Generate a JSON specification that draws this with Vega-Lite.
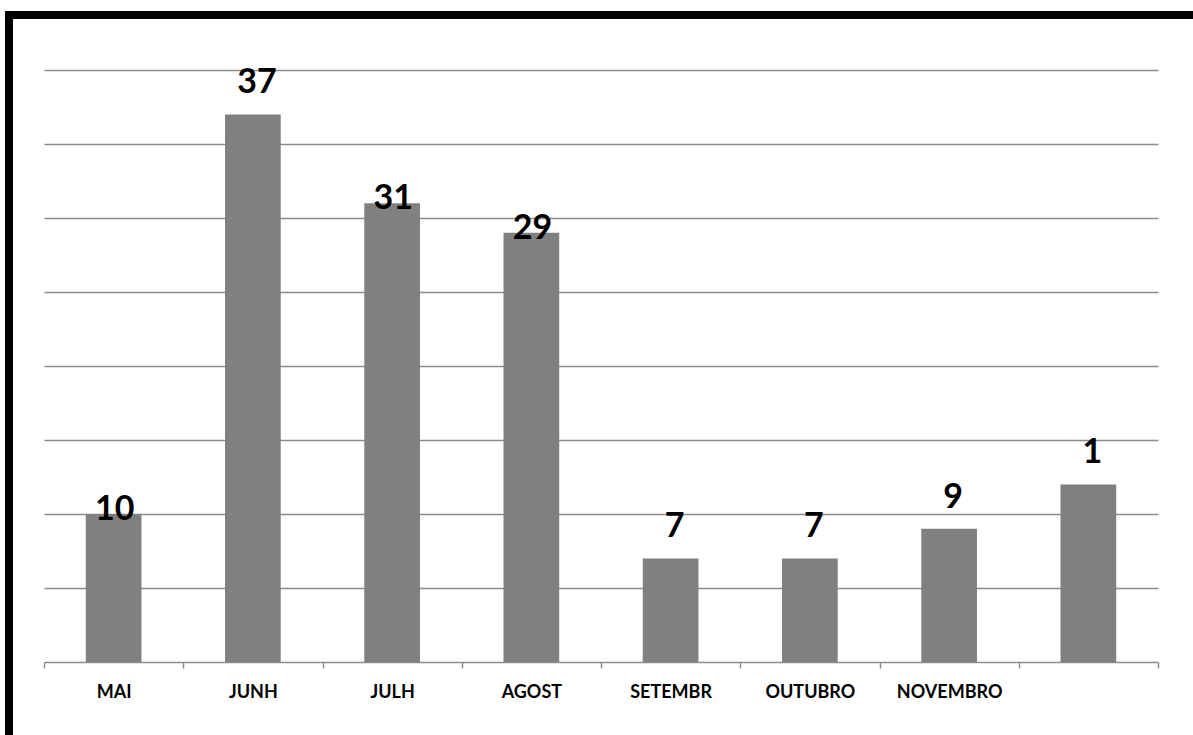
{
  "$schema": "https://vega.github.io/schema/vega-lite/v6.json",
  "width": 1200,
  "height": 730,
  "autosize": {"type": "none"},
  "padding": {"left": 9, "top": 15, "right": 0, "bottom": 0},
  "background": "white",
  "data": {
    "values": [
      {"mes": "MAI", "valor": 10, "rotulo": "10"},
      {"mes": "JUNH", "valor": 37, "rotulo": "37"},
      {"mes": "JULH", "valor": 31, "rotulo": "31"},
      {"mes": "AGOST", "valor": 29, "rotulo": "29"},
      {"mes": "SETEMBR", "valor": 7, "rotulo": "7"},
      {"mes": "OUTUBRO", "valor": 7, "rotulo": "7"},
      {"mes": "NOVEMBRO", "valor": 9, "rotulo": "9"},
      {"mes": " ", "valor": 12, "rotulo": "1"}
    ]
  },
  "encoding": {
    "x": {
      "field": "mes",
      "type": "nominal",
      "sort": null,
      "scale": {"type": "band", "range": [35, 1149], "paddingInner": 0, "paddingOuter": 0},
      "axis": {
        "title": null,
        "orient": "bottom",
        "offset": -83,
        "labelAngle": 0,
        "labelFont": "Lato",
        "labelFontWeight": "bold",
        "labelFontSize": 18,
        "labelColor": "#000000",
        "labelBaseline": "alphabetic",
        "labelPadding": 29,
        "domainColor": "#8c8c8c",
        "domainWidth": 1.5,
        "tickColor": "#8c8c8c",
        "tickWidth": 1.5,
        "tickSize": 6,
        "tickBand": "extent",
        "grid": false
      }
    },
    "y": {
      "field": "valor",
      "type": "quantitative",
      "scale": {"domain": [0, 40], "range": [647, 55], "nice": false},
      "axis": {
        "title": null,
        "labels": false,
        "ticks": false,
        "domain": false,
        "grid": true,
        "values": [5, 10, 15, 20, 25, 30, 35, 40],
        "gridColor": "#8c8c8c",
        "gridWidth": 1.5,
        "gridOpacity": 1
      }
    }
  },
  "layer": [
    {"mark": {"type": "bar", "color": "#808080", "width": {"band": 0.4}}},
    {
      "transform": [{"filter": "indexof(['MAI','JULH','AGOST'], datum.mes) >= 0"}],
      "mark": {"type": "text", "font": "Lato", "fontWeight": "bold", "fontSize": 34, "baseline": "alphabetic", "align": "center", "dy": 6, "dx": 1, "color": "#000000"},
      "encoding": {"text": {"field": "rotulo"}}
    },
    {
      "transform": [{"filter": "indexof(['MAI','JULH','AGOST'], datum.mes) < 0"}],
      "mark": {"type": "text", "font": "Lato", "fontWeight": "bold", "fontSize": 34, "baseline": "alphabetic", "align": "center", "dy": -21, "dx": 4, "color": "#000000"},
      "encoding": {"text": {"field": "rotulo"}}
    }
  ],
  "config": {
    "view": {"stroke": "#000000", "strokeWidth": 8, "fill": "white"}
  }
}
